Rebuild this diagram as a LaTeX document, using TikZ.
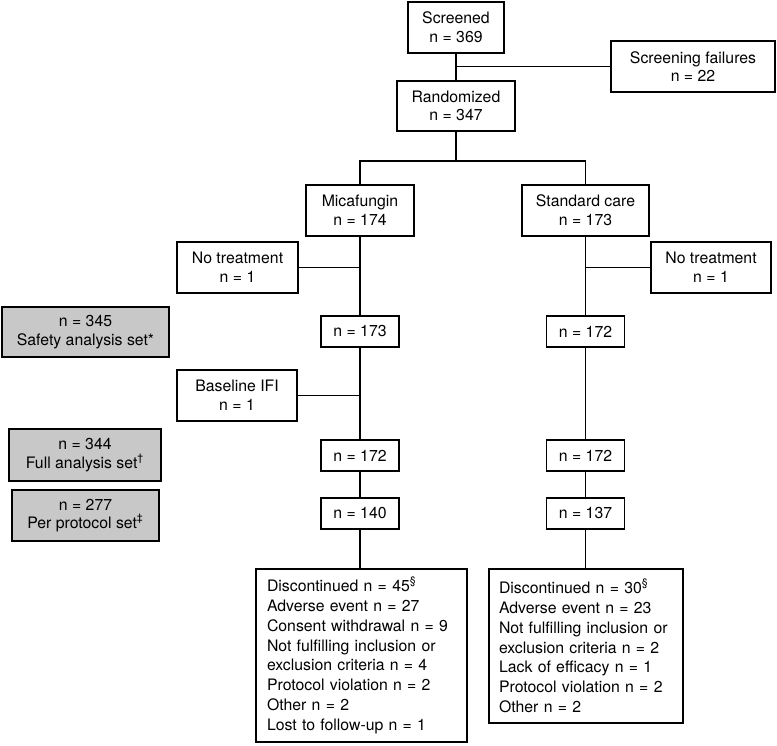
\documentclass[tikz,border=0pt]{standalone}
\usepackage{fontspec}
\setmainfont{TeX Gyre Heros}
\usepackage{tikz}
\usetikzlibrary{positioning,calc}
\definecolor{setgray}{RGB}{200,200,200}

\begin{document}
\begin{tikzpicture}[
        box/.style={draw, line width=0.8pt, align=center, inner sep=0pt, minimum height=1.02cm,
            font=\fontsize{9}{10.6}\selectfont},
        countbox/.style={box, minimum width=1.56cm, minimum height=0.62cm},
        setbox/.style={box, fill=setgray},
        listbox/.style={draw, line width=0.8pt, align=left, inner sep=0pt,
            font=\fontsize{9}{11.3}\selectfont},
        link/.style={line width=0.8pt}
    ]
    \useasboundingbox (0,0) rectangle (15.54,-14.9);

    % Screening
    \node[box, minimum width=1.92cm] (screened) at (9.12,-0.55) {Screened\\n = 369};
    \node[box, minimum width=3.28cm] (fail) at (13.86,-1.33) {Screening failures\\n = 22};
    \node[box, minimum width=2.36cm, minimum height=1.0cm] (random) at (9.12,-2.12) {Randomized\\n = 347};
    \coordinate (split) at (9.12,-3.22);

    % Treatment arms
    \node[box, minimum width=2.16cm] (mica) at (7.2,-4.21) {Micafungin\\n = 174};
    \node[box, minimum width=2.54cm] (stdcare) at (11.71,-4.21) {Standard care\\n = 173};

    \node[box, minimum width=2.42cm] (notrtL) at (4.75,-5.35) {No treatment\\n = 1};
    \node[box, minimum width=2.40cm] (notrtR) at (14.22,-5.35) {No treatment\\n = 1};

    \node[countbox] (mA) at (7.2,-6.63) {n = 173};
    \node[countbox] (sA) at (11.71,-6.63) {n = 172};

    \node[box, minimum width=2.40cm] (ifi) at (4.74,-7.91) {Baseline IFI\\n = 1};

    \node[countbox] (mB) at (7.2,-9.11) {n = 172};
    \node[countbox] (sB) at (11.71,-9.11) {n = 172};

    \node[countbox] (mC) at (7.2,-10.27) {n = 140};
    \node[countbox] (sC) at (11.71,-10.27) {n = 137};

    % Analysis sets
    \node[setbox, minimum width=3.34cm, minimum height=1.0cm] (safety) at (1.71,-6.64) {n = 345\\Safety analysis set*};
    \node[setbox, minimum width=3.04cm, minimum height=1.04cm] (full) at (1.70,-9.10) {n = 344\\Full analysis set\textsuperscript{†}};
    \node[setbox, minimum width=2.94cm] (pp) at (1.71,-10.31) {n = 277\\Per protocol set\textsuperscript{‡}};

    % Discontinuations
    \node[listbox, minimum width=4.22cm, minimum height=3.46cm, text width=3.78cm] (mdisc) at (7.23,-13.11) {
        Discontinued n = 45\textsuperscript{§}\\
        Adverse event n = 27\\
        Consent withdrawal n = 9\\
        Not fulfilling inclusion or\\
        exclusion criteria n = 4\\
        Protocol violation n = 2\\
        Other n = 2\\
        Lost to follow-up n = 1
    };
    \node[listbox, minimum width=3.88cm, minimum height=3.08cm, text width=3.48cm] (sdisc) at (11.72,-12.92) {
        Discontinued n = 30\textsuperscript{§}\\
        Adverse event n = 23\\
        Not fulfilling inclusion or\\
        exclusion criteria n = 2\\
        Lack of efficacy n = 1\\
        Protocol violation n = 2\\
        Other n = 2
    };

    % Connectors
    \draw[link] (screened.south) -- (random.north);
    \draw[link] (fail.west) -- (fail.west -| screened.south);
    \draw[link] (random.south) -- (split);
    \draw[link] (mica.north) |- (split) -| (stdcare.north);

    \draw[link] (mica.south) -- (mA.north);
    \draw[link] (mA.south) -- (mB.north);
    \draw[link] (mB.south) -- (mC.north);
    \draw[link] (mC.south) -- (mC.south |- mdisc.north);
    \draw[link] (notrtL.east) -- (notrtL.east -| mica.south);
    \draw[link] (ifi.east) -- (ifi.east -| mA.south);

    \draw[link] (stdcare.south) -- (sA.north);
    \draw[link] (sA.south) -- (sB.north);
    \draw[link] (sB.south) -- (sC.north);
    \draw[link] (sC.south) -- (sC.south |- sdisc.north);
    \draw[link] (notrtR.west) -- (notrtR.west -| stdcare.south);

\end{tikzpicture}
\end{document}
